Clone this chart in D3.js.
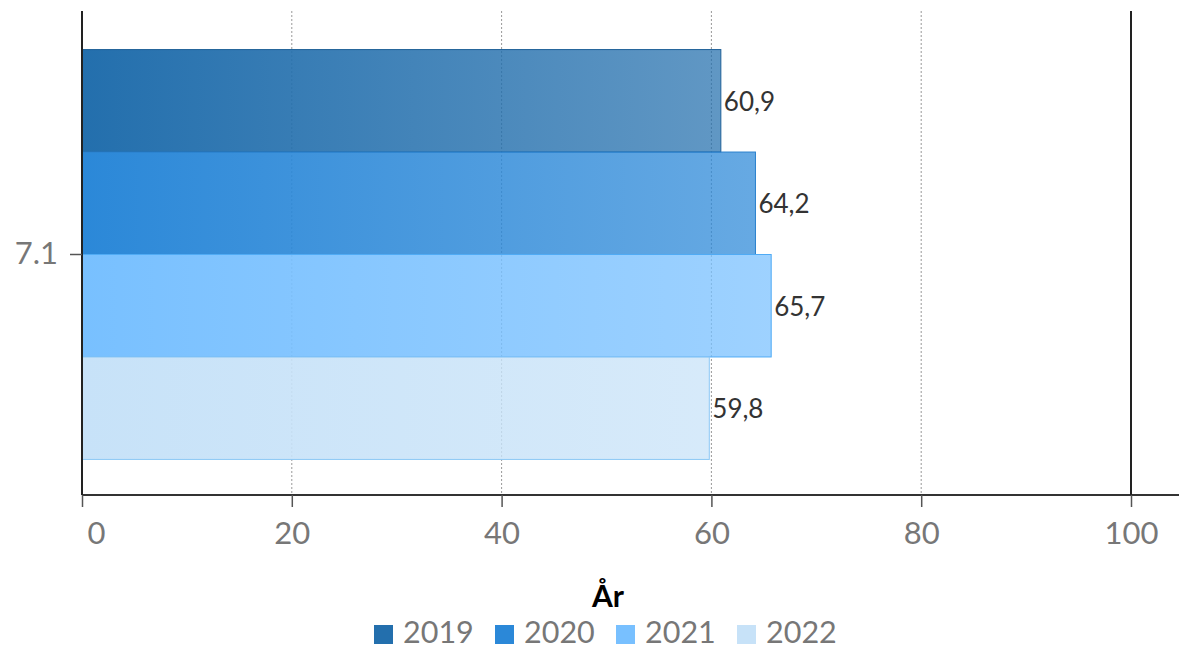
<!DOCTYPE html>
<html><head><meta charset="utf-8">
<script src="https://cdn.jsdelivr.net/npm/d3@7"></script>
<style>body{margin:0;background:#fff}svg{display:block;font-family:Lato,"Open Sans",sans-serif}</style>
</head><body><svg id="c" width="1179" height="649"></svg>
<script>
const categories = ["7.1"];
const years = ["2019","2020","2021","2022"];
const values2019 = [60.9];
const values2020 = [64.2];
const values2021 = [65.7];
const values2022 = [59.8];
const seriesValues = [values2019, values2020, values2021, values2022];
const colors = ["#236fad","#2b88d8","#78c0ff","#c7e2f8"];
const strokes = ["#1d5f97","#2a80cc","#4fabf5","#8cc8f5"];
const xTicks = [0,20,40,60,80,100];
const legendTitle = "År";

(function(){
const svg = d3.select("#c");
const pL = 82, pR = 1131, pT = 11, pB = 495;
const x = d3.scaleLinear().domain([0,100]).range([pL,pR]);
const y = d3.scaleBand().domain(categories).range([pT+2.5,pB+0.5]).paddingInner(0).paddingOuter(0.088);
const ySub = d3.scaleBand().domain(years).range([0,y.bandwidth()]);

const defs = svg.append("defs");
colors.forEach((c,i)=>{
  const g = defs.append("linearGradient").attr("id","g"+i).attr("x1","0").attr("x2","1").attr("y1","0").attr("y2","0");
  g.append("stop").attr("offset","0").attr("stop-color",c).attr("stop-opacity",1);
  g.append("stop").attr("offset","1").attr("stop-color",c).attr("stop-opacity",0.72);
});

// grid
svg.append("g").selectAll("line").data(xTicks.filter(t=>t>0&&t<100)).join("line")
  .attr("x1",d=>x(d)).attr("x2",d=>x(d)).attr("y1",pT).attr("y2",pB)
  .attr("stroke","#999").attr("stroke-width",1).attr("stroke-dasharray","2,2");

// bars
categories.forEach((cat,ci)=>{
  years.forEach((yr,si)=>{
    const v = seriesValues[si][ci];
    const y0 = y(cat)+ySub(yr);
    svg.append("rect").attr("x",x(0)).attr("y",y0).attr("width",x(v)-x(0)).attr("height",ySub.bandwidth())
      .attr("fill","url(#g"+si+")").attr("stroke",strokes[si]).attr("stroke-width",1);
    svg.append("text").attr("x",x(v)+3).attr("y",y0+ySub.bandwidth()/2+1).attr("dy","0.35em")
      .attr("font-size",26).attr("fill","#333").text(String(v).replace(".",","));
  });
});

// x axis
const xa = svg.append("g").attr("transform",`translate(0,${pB})`)
  .call(d3.axisBottom(x).tickValues(xTicks).tickSize(12).tickPadding(15).tickFormat(d3.format("d")));
xa.select(".domain").attr("stroke","#333").attr("stroke-width",2).attr("d",`M${pL},0H1179`);
xa.selectAll(".tick line").attr("stroke","#555").attr("stroke-width",1.5);
xa.selectAll(".tick text").attr("font-size",31).attr("fill","#777").attr("font-family","Lato,sans-serif");
xa.selectAll(".tick text").filter(d=>d===0).attr("dx",14);

// y axis
const ya = svg.append("g").attr("transform",`translate(${pL},0)`)
  .call(d3.axisLeft(y).tickSize(12).tickPadding(12));
ya.select(".domain").attr("stroke","#222").attr("stroke-width",2).attr("d",`M0,${pT}V${pB}`);
ya.selectAll(".tick line").attr("stroke","#555").attr("stroke-width",1.5);
ya.selectAll(".tick text").attr("font-size",31).attr("fill","#777").attr("font-family","Lato,sans-serif");

// right line
svg.append("line").attr("x1",x(100)).attr("x2",x(100)).attr("y1",pT).attr("y2",pB)
  .attr("stroke","#222").attr("stroke-width",2);

// legend
svg.append("text").attr("x",608).attr("y",607).attr("text-anchor","middle")
  .attr("font-size",30).attr("font-weight","bold").attr("fill","#000").text(legendTitle);
const lx = [374,495,616,737];
years.forEach((yr,i)=>{
  svg.append("rect").attr("x",lx[i]).attr("y",625).attr("width",19).attr("height",19).attr("fill",colors[i]);
  svg.append("text").attr("x",lx[i]+29).attr("y",643).attr("font-size",30.5).attr("fill","#777").text(yr);
});
})();
</script></body></html>
